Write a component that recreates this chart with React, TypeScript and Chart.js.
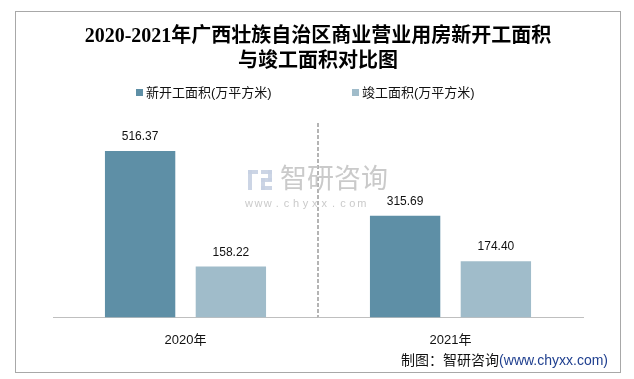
import React, { useEffect, useRef } from "react";
import { Chart, registerables } from "chart.js";

Chart.register(...registerables);

const categories = ["2020年", "2021年"];
const seriesNames = ["新开工面积(万平方米)", "竣工面积(万平方米)"];
const newStarts = [516.37, 315.69];
const completed = [158.22, 174.4];
const titleLines = ["2020-2021年广西壮族自治区商业营业用房新开工面积", "与竣工面积对比图"];
const footerLabel = "制图：智研咨询";
const footerUrl = "(www.chyxx.com)";
const watermarkName = "智研咨询";
const watermarkUrl = "www.chyxx.com";

const colors = ["#5E8FA6", "#A0BCCA"];
const baseFont = '"Liberation Sans", "Noto Sans CJK SC", sans-serif';

const decorPlugin = {
  id: "decor",
  beforeDraw(chart: any) {
    const { ctx, width, height } = chart;
    ctx.save();
    ctx.fillStyle = "#ffffff";
    ctx.fillRect(0, 0, width, height);
    ctx.strokeStyle = "#a8a8a8";
    ctx.lineWidth = 1;
    ctx.strokeRect(15.5, 11.5, 605, 361);
    ctx.restore();
  },
  beforeDatasetsDraw(chart: any) {
    const { ctx, chartArea } = chart;
    const xs = chart.scales.x;
    const mid = (xs.getPixelForValue(0) + xs.getPixelForValue(1)) / 2;
    ctx.save();
    ctx.strokeStyle = "#b4b4b4";
    ctx.lineWidth = 2;
    ctx.setLineDash([4, 2]);
    ctx.beginPath();
    ctx.moveTo(Math.round(mid), chartArea.top - 1);
    ctx.lineTo(Math.round(mid), chartArea.bottom);
    ctx.stroke();
    ctx.restore();
  },
  afterDatasetsDraw(chart: any) {
    const { ctx } = chart;
    ctx.save();
    ctx.font = "12px " + baseFont;
    ctx.fillStyle = "#111";
    ctx.textAlign = "center";
    ctx.textBaseline = "middle";
    chart.data.datasets.forEach((ds: any, di: number) => {
      const meta = chart.getDatasetMeta(di);
      meta.data.forEach((bar: any, i: number) => {
        const v = ds.data[i];
        ctx.fillText(v.toFixed(2), bar.x, bar.y - 14);
      });
    });
    ctx.restore();
  },
  afterDraw(chart: any) {
    const { ctx } = chart;
    ctx.save();
    // legend
    ctx.font = "13px " + baseFont;
    ctx.textBaseline = "middle";
    ctx.textAlign = "left";
    const legendX = [136, 352];
    seriesNames.forEach((name, i) => {
      ctx.fillStyle = colors[i];
      ctx.fillRect(legendX[i], 89, 7, 7);
      ctx.fillStyle = "#111";
      ctx.fillText(name, legendX[i] + 10, 93);
    });
    // footer
    ctx.font = "14px " + baseFont;
    const wUrl = ctx.measureText(footerUrl).width;
    const wLab = ctx.measureText(footerLabel).width;
    const right = 608;
    ctx.fillStyle = "#1F3F8F";
    ctx.fillText(footerUrl, right - wUrl, 361);
    ctx.fillStyle = "#111";
    ctx.fillText(footerLabel, right - wUrl - wLab, 361);
    // watermark
    ctx.globalAlpha = 0.9;
    ctx.fillStyle = "#c6d0e2";
    ctx.fillRect(248, 170, 10, 4);
    ctx.fillRect(248, 170, 4, 20);
    ctx.fillRect(261, 170, 11, 4);
    ctx.fillRect(268, 170, 4, 11);
    ctx.fillRect(261, 178, 11, 4);
    ctx.fillRect(261, 178, 4, 12);
    ctx.fillRect(261, 186, 11, 4);
    ctx.fillStyle = "#c4c4c4";
    ctx.font = "27px " + baseFont;
    ctx.fillText(watermarkName, 280, 181);
    ctx.font = "11px " + baseFont;
    ctx.textAlign = "center";
    const chars = watermarkUrl.split("");
    chars.forEach((c, i) => {
      ctx.fillText(c, 249 + i * 9.4, 204);
    });
    ctx.restore();
  },
};

export default function App() {
  const ref = useRef<HTMLCanvasElement | null>(null);
  useEffect(() => {
    if (!ref.current) return;
    const chart = new Chart(ref.current, {
      type: "bar",
      data: {
        labels: categories,
        datasets: [
          {
            label: seriesNames[0],
            data: newStarts,
            backgroundColor: colors[0],
            categoryPercentage: 0.685,
            barPercentage: 0.775,
          },
          {
            label: seriesNames[1],
            data: completed,
            backgroundColor: colors[1],
            categoryPercentage: 0.685,
            barPercentage: 0.775,
          },
        ],
      },
      options: {
        responsive: false,
        animation: false,
        devicePixelRatio: 1,
        layout: { padding: { left: 53, right: 51, top: 14, bottom: 16 } },
        plugins: {
          legend: { display: false },
          tooltip: { enabled: false },
          title: {
            display: true,
            text: titleLines,
            color: "#000",
            font: {
              family: '"Liberation Serif", "Noto Sans CJK SC", serif',
              size: 20,
              weight: "bold",
              lineHeight: 1.25,
            },
            padding: { top: 10, bottom: 50 },
          },
        },
        scales: {
          x: {
            grid: { display: false, drawTicks: false },
            border: { display: true, color: "#bfbfbf", width: 1 },
            ticks: {
              color: "#111",
              font: { family: baseFont, size: 13 },
              padding: 15,
            },
          },
          y: {
            display: false,
            min: 0,
            max: 600,
          },
        },
      },
      plugins: [decorPlugin],
    });
    return () => chart.destroy();
  }, []);
  return (
    <div style={{ position: "fixed", left: 0, top: 0, width: 634, height: 379, background: "#fff" }}>
      <canvas ref={ref} width={634} height={379} style={{ display: "block", width: 634, height: 379 }} />
    </div>
  );
}
